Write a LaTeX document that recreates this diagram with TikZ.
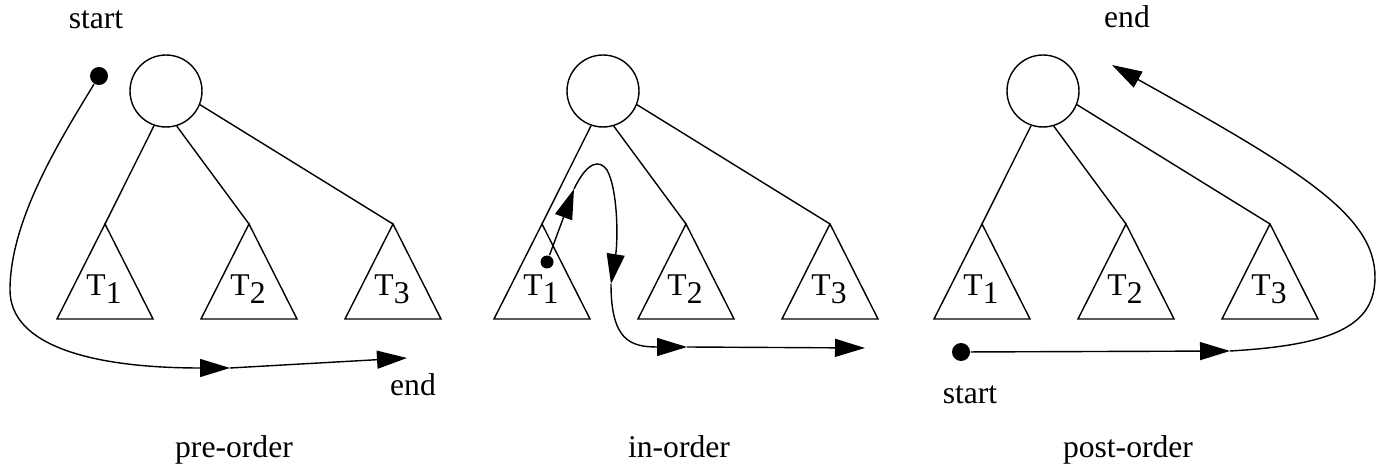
\documentclass[tikz,border=0pt]{standalone}
\usepackage{fontspec}
\setmainfont{Liberation Serif}
\usepackage{tikz}
\usetikzlibrary{arrows.meta}

\newcommand{\tlabel}[1]{T\raisebox{-0.155cm}{#1}}

\begin{document}
\begin{tikzpicture}[x=0.02cm,y=-0.02cm,line width=0.8pt,font=\fontsize{18}{22}\selectfont,
  root/.style={draw,circle,minimum size=1.44cm,inner sep=0pt},
  dot/.style={circle,fill,inner sep=0pt,minimum size=0.36cm},
  walk/.style={-{Triangle[length=0.6cm,width=0.36cm]}}]
\useasboundingbox (0,0) rectangle (1383,469);
% the three trees
\foreach \p/\dx in {1/0,2/437,3/877}{
  \begin{scope}[shift={(\dx,0)}]
  \node[root] (root\p) at (166,91) {};
  \foreach \i/\tx in {1/105,2/249,3/393}{
    \coordinate (t\p\i) at (\tx,224);
    \draw (t\p\i) -- ++(-48,95) -- ++(96,0) -- cycle;
    \node[anchor=base,inner sep=0pt] (lab\p\i) at (\tx-1,296) {\tlabel{\i}};
  }
  \draw (root\p.-109) -- (t\p1);
  \draw (root\p.-73) -- (t\p2);
  \draw (root\p.-22) -- (t\p3);
  \end{scope}
}
% pre-order
\node[dot] (s1) at (99,76) {};
\coordinate (m1) at (230,368);
\coordinate (e1) at (407,358);
\draw[walk] (s1) .. controls (60,140) and (10,220) .. (10,290) .. controls (10,345) and (90,368) .. (m1);
\draw[walk] (m1) -- (e1);
\node[anchor=base] (st1) at (96,29) {start};
\node[anchor=base] (en1) at (413,396) {end};
\node[anchor=base] (cap1) at (234,458) {pre-order};
% in-order
\node[dot,minimum size=0.26cm] (s2) at (547,262) {};
\coordinate (a2) at (574,189);
\coordinate (b2) at (611,284);
\coordinate (m2) at (687,347);
\coordinate (e2) at (865,348);
\draw[walk] (s2) -- (a2);
\draw[walk] (a2) .. controls (588,160) and (600,160) .. (607,170) .. controls (618,190) and (618,240) .. (b2);
\draw[walk] (b2) .. controls (611,340) and (630,347) .. (m2);
\draw[walk] (m2) -- (e2);
\node[anchor=base] (cap2) at (679,458) {in-order};
% post-order
\node[dot] (s3) at (961,352) {};
\coordinate (m3) at (1230,351);
\coordinate (e3) at (1112,65);
\draw[walk] (s3) -- (m3);
\draw[walk] (m3) .. controls (1335,345) and (1375,325) .. (1375,277) .. controls (1375,215) and (1300,170) .. (e3);
\node[anchor=base] (st3) at (970,404) {start};
\node[anchor=base] (en3) at (1127,28) {end};
\node[anchor=base] (cap3) at (1128,458) {post-order};
\end{tikzpicture}
\end{document}
